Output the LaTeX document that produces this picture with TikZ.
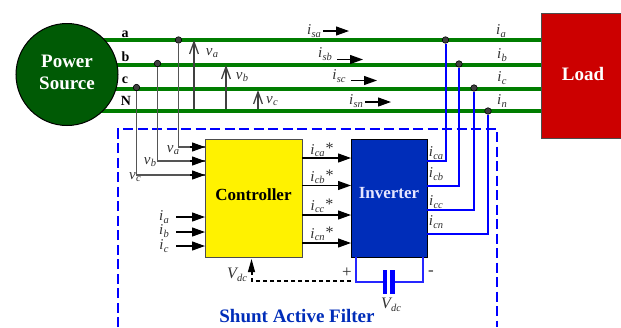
\documentclass[tikz,border=0pt]{standalone}
\usepackage{fontspec}
\setmainfont{Liberation Serif}
\usetikzlibrary{arrows.meta,calc}
\definecolor{srcgreen}{RGB}{0,90,5}
\definecolor{busgreen}{RGB}{0,125,0}
\definecolor{loadred}{RGB}{204,0,0}
\definecolor{invblue}{RGB}{0,45,185}
\definecolor{wirgray}{RGB}{85,85,85}
\definecolor{lbl}{RGB}{50,50,50}
\newcommand{\vr}[2]{{\itshape #1\kern0.3pt\raisebox{-0.35ex}{\fontsize{10.5}{11}\selectfont #2}}}
\newcommand{\vrs}[2]{{\itshape #1\kern0.3pt\raisebox{-0.35ex}{\fontsize{10.5}{11}\selectfont #2}\kern1pt\raisebox{0.1ex}{\upshape\fontsize{16}{16}\selectfont *}}}
\tikzset{
 x=1pt,y=-1pt,
 bus/.style={busgreen,line width=4pt},
 bluew/.style={blue,line width=2pt},
 sense/.style={wirgray,line width=1.4pt},
 sig/.style={black,line width=1.2pt,-{Triangle[length=13pt,width=9pt]}},
 volt/.style={black!75,line width=1.3pt,-{Straight Barb[length=12pt,width=10pt,angle'=40]}},
 dot/.style={circle,fill=black!75,draw=black,line width=0.6pt,inner sep=0pt,minimum size=6.5pt},
 lab/.style={text=lbl,font=\fontsize{15}{15}\selectfont,inner sep=0pt},
 phase/.style={font=\bfseries\fontsize{14}{14}\selectfont,inner sep=0pt},
 boxlabel/.style={font=\bfseries\fontsize{17}{19}\selectfont,align=center,inner sep=0pt},
}
\begin{document}
\begin{tikzpicture}
\useasboundingbox (0,0) rectangle (621,327);
\fill[white] (0,0) rectangle (621,327);
\node[draw=black!70,line width=1pt,fill=loadred,minimum width=83pt,minimum height=125pt,inner sep=0pt,anchor=north west] (load) at (540.5,13) {};
\node[boxlabel,font=\bfseries\fontsize{19}{20}\selectfont,text=white] (loadt) at (583,74) {Load};
\coordinate (As) at (80,40);
\coordinate (Bs) at (80,64.5);
\coordinate (Cs) at (80,89);
\coordinate (Ns) at (80,111);
\coordinate (Ae) at (540.5,40);
\coordinate (Be) at (540.5,64.5);
\coordinate (Ce) at (540.5,89);
\coordinate (Ne) at (540.5,111);
\draw[bus] (As) -- (Ae);
\draw[bus] (Bs) -- (Be);
\draw[bus] (Cs) -- (Ce);
\draw[bus] (Ns) -- (Ne);
\node[circle,draw=black,line width=1pt,fill=srcgreen,minimum size=102pt,inner sep=0pt] (src) at (67,74.5) {};
\node[boxlabel,text=white,font=\bfseries\fontsize{19}{22}\selectfont] (srct) at (67,72.5) {Power\\Source};
\node[phase] (pa) at (125,34) {a};
\node[phase] (pb) at (125.5,56.5) {b};
\node[phase] (pc) at (125,80) {c};
\node[phase] (pn) at (126,101) {N};
% filter frame
\coordinate (f1) at (118,327);
\coordinate (f2) at (118,129);
\coordinate (f3) at (497,129);
\coordinate (f4) at (497,327);
\draw[blue,line width=1.8pt,dash pattern=on 10pt off 4.5pt] (f1) -- (f2) -- (f3) -- (f4);
% boxes
\node[draw=black!70,line width=1.1pt,fill=yellow,minimum width=97pt,minimum height=118pt,inner sep=0pt,anchor=north west] (ctrl) at (205,139) {};
\node[boxlabel] (ctrlt) at (253.5,194.5) {Controller};
\node[draw=black,line width=1.1pt,fill=invblue,minimum width=76pt,minimum height=118pt,inner sep=0pt,anchor=north west] (inv) at (351,139) {};
\node[boxlabel,text=white!90!blue] (invt) at (389,193) {Inverter};
% sensing wires
\node[dot] (ja) at (178.5,40) {};
\node[dot] (jb) at (157.5,63.5) {};
\node[dot] (jc) at (136.5,87.5) {};
\coordinate (ca) at (205,147);
\coordinate (cb) at (205,161);
\coordinate (cc) at (205,175);
\draw[sense] (ja) -- (ja |- ca) -- (ca);
\draw[sense] (jb) -- (jb |- cb) -- (cb);
\draw[sense] (jc) -- (jc |- cc) -- (cc);
\draw[sig] ($(ca)+(-15,0)$) -- (ca);
\draw[sig] ($(cb)+(-15,0)$) -- (cb);
\draw[sig] ($(cc)+(-15,0)$) -- (cc);
% phase voltage arrows
\coordinate (va0) at (194,109);
\coordinate (va1) at (194,40);
\coordinate (vb0) at (226,109);
\coordinate (vb1) at (226,65);
\coordinate (vc0) at (258,109);
\coordinate (vc1) at (258,90);
\draw[volt] (va0) -- (va1);
\draw[volt] (vb0) -- (vb1);
\draw[volt] (vc0) -- (vc1);
\node[lab] (lva) at (212,53) {\vr{v}{a}};
\node[lab] (lvb) at (242,77) {\vr{v}{b}};
\node[lab] (lvc) at (272,101) {\vr{v}{c}};
\node[lab] (lva2) at (173,150) {\vr{v}{a}};
\node[lab] (lvb2) at (150,162) {\vr{v}{b}};
\node[lab] (lvc2) at (135,177) {\vr{v}{c}};
% source current arrows
\foreach \n/\t/\lx/\ax/\ay/\ly in {sa/sa/314/323/31/31, sb/sb/325/337/59.5/54, sc/sc/339/351/80.5/76, sn/sn/356/365/102/101}{
 \node[lab] (l\n) at (\lx,\ly) {\vr{i}{\t}};
 \coordinate (a\n) at (\ax,\ay);
 \draw[sig] (a\n) -- ++(26,0);
}
% load currents
\node[lab] (lia) at (501,31) {\vr{i}{a}};
\node[lab] (lib) at (502,55) {\vr{i}{b}};
\node[lab] (lic) at (502,78) {\vr{i}{c}};
\node[lab] (lin) at (502,101) {\vr{i}{n}};
% compensating wires
\node[dot] (ka) at (445.5,40) {};
\node[dot] (kb) at (459,64) {};
\node[dot] (kc) at (474,88) {};
\node[dot] (kn) at (488,111) {};
\coordinate (ra) at (427,161);
\coordinate (rb) at (427,186);
\coordinate (rc) at (427,210);
\coordinate (rn) at (427,234);
\draw[bluew] (ka) -- (ka |- ra) -- (ra);
\draw[bluew] (kb) -- (kb |- rb) -- (rb);
\draw[bluew] (kc) -- (kc |- rc) -- (rc);
\draw[bluew] (kn) -- (kn |- rn) -- (rn);
\node[lab] (lra) at (436,153) {\vr{i}{ca}};
\node[lab] (lrb) at (436,174) {\vr{i}{cb}};
\node[lab] (lrc) at (436,202) {\vr{i}{cc}};
\node[lab] (lrn) at (436,222) {\vr{i}{cn}};
% controller to inverter
\coordinate (oa) at (302,158);
\coordinate (ob) at (302,185.5);
\coordinate (oc) at (302,215);
\coordinate (on) at (302,243);
\draw[sig] (oa) -- (oa -| inv.west);
\draw[sig] (ob) -- (ob -| inv.west);
\draw[sig] (oc) -- (oc -| inv.west);
\draw[sig] (on) -- (on -| inv.west);
\node[lab] (lsa) at (322,150) {\vrs{i}{ca}};
\node[lab] (lsb) at (322,177) {\vrs{i}{cb}};
\node[lab] (lsc) at (322,206) {\vrs{i}{cc}};
\node[lab] (lsn) at (322,234) {\vrs{i}{cn}};
% load current inputs
\coordinate (ia) at (176,217);
\coordinate (ib) at (176,232);
\coordinate (ic) at (176,246);
\draw[sig] (ia) -- (ia -| ctrl.west);
\draw[sig] (ib) -- (ib -| ctrl.west);
\draw[sig] (ic) -- (ic -| ctrl.west);
\node[lab] (lca) at (164,217) {\vr{i}{a}};
\node[lab] (lcb) at (164,231) {\vr{i}{b}};
\node[lab] (lcc) at (164,246) {\vr{i}{c}};
% dc link
\coordinate (d1) at (351,280.5);
\coordinate (d2) at (251.5,280.5);
\coordinate (d3) at (251.5,259);
\draw[black,line width=2pt,dash pattern=on 4.5pt off 2.5pt] (d1) -- (d2) -- (251.5,272);
\draw[black,line width=1.2pt,-{Triangle[length=13pt,width=7pt]}] (251.5,272) -- (d3);
\node[lab,font=\fontsize{16}{16}\selectfont] (lvd) at (237,275) {\vr{V}{dc}};
\coordinate (c1) at (356,257);
\coordinate (c2) at (356,282);
\coordinate (c3) at (385,282);
\coordinate (c4) at (392.5,282);
\coordinate (c5) at (423,282);
\coordinate (c6) at (423,257);
\draw[blue!85!white,line width=1.5pt] (c1) -- (c2) -- (c3);
\draw[blue!85!white,line width=1.5pt] (c4) -- (c5) -- (c6);
\draw[blue,line width=4.2pt] ($(c3)+(0,-12)$) -- ($(c3)+(0,12)$);
\draw[blue,line width=4.2pt] ($(c4)+(0,-12)$) -- ($(c4)+(0,12)$);
\node[lab,font=\fontsize{17}{17}\selectfont] (lp) at (347,273) {+};
\node[lab,font=\fontsize{17}{17}\selectfont] (lm) at (431,273) {-};
\node[lab,font=\fontsize{16}{16}\selectfont] (lvd2) at (391,305) {\vr{V}{dc}};
\node[font=\bfseries\fontsize{19}{20}\selectfont,text=invblue,inner sep=0pt] (title) at (297,316) {Shunt Active Filter};
\end{tikzpicture}
\end{document}
